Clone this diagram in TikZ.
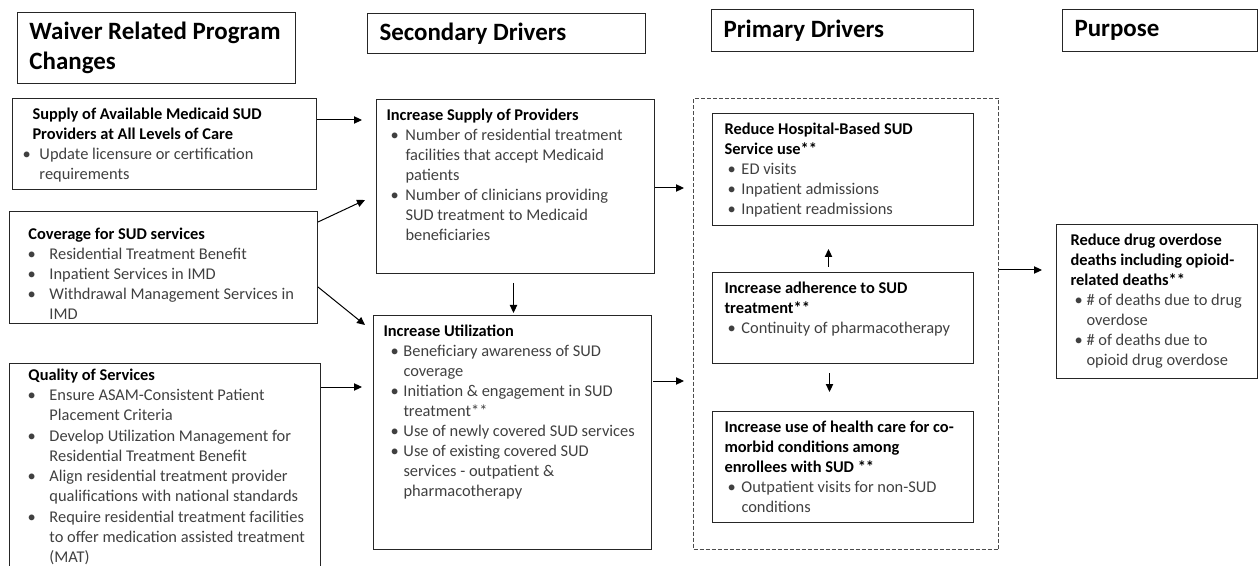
\documentclass[tikz,border=0pt]{standalone}
\usepackage{fontspec}
\setmainfont{Carlito}
\usetikzlibrary{calc,arrows.meta}
\definecolor{txt}{HTML}{404040}
\definecolor{bord}{HTML}{262626}
\newdimen\pxu \pxu=0.75pt
\newdimen\bo \newdimen\ti \newdimen\isk
\newcommand\itm[1]{\par\vspace{\isk}\hangindent=\ti\hangafter=1\noindent\hspace*{\bo}\makebox[0pt][l]{\textbullet}\hspace*{\dimexpr\ti-\bo\relax}#1}
\newcommand\ttl[1]{\noindent\strut{\bfseries\color{black}#1}}
% W H L bo ti baselineskip body
\newcommand\cbx[7]{\hspace*{#3\pxu}\makebox[\dimexpr #1\pxu-#3\pxu\relax][l]{\begin{minipage}[t][\dimexpr #2\pxu-14\pxu\relax][t]{\dimexpr #1\pxu-#3\pxu+40\pxu\relax}\fontsize{12.3}{#6}\selectfont\raggedright\bo=#4\pxu\ti=#5\pxu\isk=0pt\color{txt}#7\end{minipage}}}
% W H body
\newcommand\hbx[3]{\hspace*{12\pxu}\makebox[\dimexpr #1\pxu-12\pxu\relax][l]{\begin{minipage}[c][\dimexpr #2\pxu-10\pxu\relax][c]{\dimexpr #1\pxu+20\pxu\relax}\fontsize{18.7}{22.5}\selectfont\bfseries\raggedright #3\end{minipage}}}
\tikzset{
  hb/.style={draw=bord, line width=0.75pt, anchor=north west, inner xsep=0pt, inner ysep=3.75pt},
  cb/.style={draw=bord, line width=0.75pt, anchor=north west, inner xsep=0pt, inner ysep=5.25pt},
  conn/.style={line width=0.75pt, draw=black, -{Triangle[length=6pt,width=5.5pt]}},
  dbox/.style={draw=black!70, line width=0.75pt, dash pattern=on 3pt off 1.5pt, anchor=north west, inner sep=0pt}
}
\begin{document}
\begin{tikzpicture}[x=0.75pt,y=-0.75pt]
\useasboundingbox (0,0) rectangle (1259,566);
% headers
\node[hb] (h1) at (17,12) {\hbx{278}{71}{Waiver Related Program\\Changes}};
\node[hb] (h2) at (367,13) {\hbx{278}{40}{Secondary Drivers}};
\node[hb] (h3) at (711,9) {\hbx{262}{42}{Primary Drivers}};
\node[hb] (h4) at (1062,9) {\hbx{195}{42}{Purpose}};
% dashed frame
\node[dbox, minimum width=228.75pt, minimum height=338.25pt] (dash) at (693,98) {};
% left column
\node[cb] (sup) at (12,98) {\cbx{304}{91}{20}{-10}{7}{15}{\ttl{Supply of Available Medicaid SUD\newline Providers at All Levels of Care}\itm{Update licensure or certification\newline requirements}}};
\node[cb] (cov) at (9,211) {\cbx{308}{112}{19}{-1}{21}{15}{\vspace*{5pt}\ttl{Coverage for SUD services}\itm{Residential Treatment Benefit}\itm{Inpatient Services in IMD}\itm{Withdrawal Management Services in\newline IMD}}};
\node[cb] (qual) at (9,363) {\cbx{311}{212}{19}{-1}{21}{15}{\vspace*{-3pt}\ttl{Quality of Services}\itm{Ensure ASAM-Consistent Patient\newline Placement Criteria}\isk=0.5pt\itm{Develop Utilization Management for\newline Residential Treatment Benefit}\itm{Align residential treatment provider\newline qualifications with national standards}\itm{Require residential treatment facilities\newline to offer medication assisted treatment\newline (MAT)}}};
% secondary drivers
\node[cb] (prov) at (376,99) {\cbx{278}{174}{10}{4}{19}{15}{\ttl{Increase Supply of Providers}\itm{Number of residential treatment\newline facilities that accept Medicaid\newline patients}\itm{Number of clinicians providing\newline SUD treatment to Medicaid\newline beneficiaries}}};
\node[cb] (util) at (373,315) {\cbx{278}{234}{10}{7}{20}{15}{\ttl{Increase Utilization}\itm{Beneficiary awareness of SUD\newline coverage}\itm{Initiation \& engagement in SUD\newline treatment**}\itm{Use of newly covered SUD services}\itm{Use of existing covered SUD\newline services - outpatient \&\newline pharmacotherapy}}};
% primary drivers
\node[cb] (hosp) at (712,113) {\cbx{261}{112}{12}{3}{17}{15}{\ttl{Reduce Hospital-Based SUD\newline Service use**}\itm{ED visits}\itm{Inpatient admissions}\itm{Inpatient readmissions}}};
\node[cb] (adh) at (712,272) {\cbx{261}{91}{12}{3}{17}{15}{\ttl{Increase adherence to SUD\newline treatment**}\itm{Continuity of pharmacotherapy}}};
\node[cb] (como) at (712,411) {\cbx{261}{111}{12}{3}{17}{15}{\ttl{Increase use of health care for co-\newline morbid conditions among\newline enrollees with SUD **}\itm{Outpatient visits for non-SUD\newline conditions}}};
% purpose
\node[cb] (purp) at (1056,224) {\cbx{201}{154}{14}{4}{16}{15}{\ttl{Reduce drug overdose\newline deaths including opioid-\newline related deaths**}\itm{\# of deaths due to drug\newline overdose}\itm{\# of deaths due to\newline opioid drug overdose}}};
% connectors
\draw[conn] ($(sup.north east)+(0,22)$) -- ($(prov.north west)+(-14,21)$);
\draw[conn] ($(cov.north east)+(0,11)$) -- ($(prov.north west)+(-11,101)$);
\draw[conn] ($(cov.north east)+(0,76)$) -- ($(util.north west)+(-8,10)$);
\draw[conn] ($(qual.north east)+(0,24)$) -- ($(util.north west)+(-11,72)$);
\draw[conn] ($(prov.south)+(-2,9)$) -- ($(util.north)+(1,-2)$);
\draw[conn] ($(prov.north east)+(0,89)$) -- ($(dash.north west)+(-9,90)$);
\draw[conn] ($(util.north east)+(1,66)$) -- ($(dash.north west)+(-9,283)$);
\draw[conn] ($(adh.north)+(-14.5,-5)$) -- ($(hosp.south)+(-14.5,23)$);
\draw[conn] ($(adh.south)+(-13.5,9)$) -- ($(como.north)+(-13.5,-19)$);
\draw[conn] ($(dash.north east)+(0,172)$) -- ($(purp.north west)+(-14,46)$);
\end{tikzpicture}
\end{document}
